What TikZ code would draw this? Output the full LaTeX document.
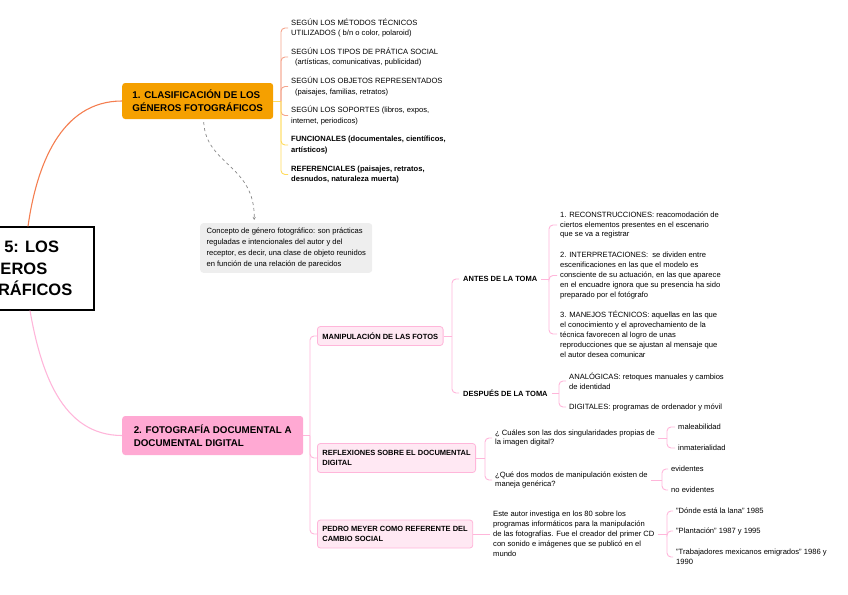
\documentclass[tikz,border=0pt]{standalone}
\usepackage{fontspec}
\setmainfont{Liberation Sans}
\usetikzlibrary{arrows.meta}
\definecolor{naranja}{HTML}{F5A000}
\definecolor{coral}{HTML}{F47E50}
\definecolor{salmon}{HTML}{F4A48C}
\definecolor{amarillo}{HTML}{FFDB5C}
\definecolor{rosa}{HTML}{FFA9D3}
\definecolor{rosal}{HTML}{FFB6DA}
\definecolor{rosap}{HTML}{FFE8F3}
\definecolor{gris}{HTML}{EEEEEE}
\definecolor{grisl}{HTML}{888888}
\begin{document}
\begin{tikzpicture}[x=1pt, y=-1pt,
    txt/.style={anchor=west, align=left, inner xsep=3pt, inner ysep=0pt, font=\fontsize{7.6}{10.6}\selectfont},
    ptxt/.style={anchor=west, align=left, inner xsep=3pt, inner ysep=0pt, font=\fontsize{7.6}{9.9}\selectfont},
    lbl/.style={anchor=west, align=left, inner xsep=4pt, inner ysep=0pt, font=\fontsize{7.5}{10}\selectfont\bfseries},
    rama/.style={anchor=west, align=left, rounded corners=3pt, inner xsep=9pt, font=\fontsize{9.8}{13}\selectfont\bfseries},
    sub/.style={anchor=west, align=left, draw=rosal, fill=rosap, line width=0.8pt, rounded corners=3pt, inner xsep=5pt, inner ysep=3pt, font=\fontsize{7.5}{10}\selectfont\bfseries},
    lin/.style={rounded corners=4pt, line width=0.9pt}]
    \clip (0,0) rectangle (848,594);

    % tema central
    \node[draw, line width=1.3pt, align=center, minimum width=176, minimum height=83, font=\fontsize{16.5}{21.5}\selectfont\bfseries] (tema) at (6,268.5) {TEMA 5: LOS\\GÉNEROS\\FOTOGRÁFICOS};

    % rama 1
    \node[rama, fill=naranja, minimum width=151, minimum height=36] (b1) at (122,101) {1. CLASIFICACIÓN DE LOS\\GÉNEROS FOTOGRÁFICOS};
    \draw[coral, line width=1.1pt] ([xshift=22pt]tema.north) to[out=82, in=180] (b1.west);
    \coordinate (h1) at (281,101);
    \node[txt] (t1) at (288,28) {SEGÚN LOS MÉTODOS TÉCNICOS\\UTILIZADOS ( b/n o color, polaroid)};
    \node[txt] (t2) at (288,57) {SEGÚN LOS TIPOS DE PRÁTICA SOCIAL\\\hspace{4pt}(artísticas, comunicativas, publicidad)};
    \node[txt] (t3) at (288,86.5) {SEGÚN LOS OBJETOS REPRESENTADOS\\\hspace{4pt}(paisajes, familias, retratos)};
    \node[txt] (t4) at (288,115.5) {SEGÚN LOS SOPORTES (libros, expos,\\internet, periodicos)};
    \node[txt, font=\fontsize{7.6}{10.6}\selectfont\bfseries] (t5) at (288,145) {FUNCIONALES (documentales, científicos,\\artísticos)};
    \node[txt, font=\fontsize{7.6}{10.6}\selectfont\bfseries] (t6) at (288,174.5) {REFERENCIALES (paisajes, retratos,\\desnudos, naturaleza muerta)};
    \draw[lin, amarillo] (b1.east) -- (h1);
    \draw[lin, salmon] (h1) |- (t1.west);
    \draw[lin, salmon] (h1) |- (t2.west);
    \draw[lin, salmon] (h1) |- (t3.west);
    \draw[lin, salmon] (h1) |- (t4.west);
    \draw[lin, amarillo] (h1) |- (t5.west);
    \draw[lin, amarillo] (h1) |- (t6.west);

    % concepto
    \node[fill=gris, rounded corners=3pt, anchor=north west, align=left, minimum width=172, inner xsep=5pt, inner ysep=5pt, font=\fontsize{7.6}{10.8}\selectfont] (concepto) at (200,223) {Concepto de género fotográfico: son prácticas\\reguladas e intencionales del autor y del\\receptor, es decir, una clase de objeto reunidos\\en función de una relación de parecidos};
    \draw[dashed, grisl, line width=0.7pt, -{Stealth[length=3pt, width=3pt]}] ([xshift=6pt, yshift=-3pt]b1.south) .. controls (206,165) and (255,165) .. ([xshift=-32pt, yshift=3pt]concepto.north);

    % rama 2
    \node[rama, fill=rosa, minimum width=181, minimum height=39] (b2) at (122,435.5) {2. FOTOGRAFÍA DOCUMENTAL A\\DOCUMENTAL DIGITAL};
    \draw[rosal, line width=1.1pt] ([xshift=24pt]tema.south) to[out=-80, in=180] (b2.west);
    \coordinate (h2) at (310,435.5);
    \node[sub, minimum height=19] (m) at (317,336) {MANIPULACIÓN DE LAS FOTOS};
    \node[sub, minimum height=29] (r) at (317,458) {REFLEXIONES SOBRE EL DOCUMENTAL\\DIGITAL};
    \node[sub, minimum height=28] (p) at (317,534) {PEDRO MEYER COMO REFERENTE DEL\\CAMBIO SOCIAL};
    \draw[lin, rosal] (b2.east) -- (h2);
    \draw[lin, rosal] (h2) |- (m.west);
    \draw[lin, rosal] (h2) |- (r.west);
    \draw[lin, rosal] (h2) |- (p.west);

    % manipulacion
    \coordinate (h3) at (452,336);
    \node[lbl] (antes) at (459,279) {ANTES DE LA TOMA};
    \node[lbl] (despues) at (459,393) {DESPUÉS DE LA TOMA};
    \draw[lin, rosal] (m.east) -- (h3);
    \draw[lin, rosal] (h3) |- (antes.west);
    \draw[lin, rosal] (h3) |- (despues.west);

    \coordinate (h4) at (549,279);
    \node[ptxt] (a1) at (557,225) {1. RECONSTRUCCIONES: reacomodación de\\ciertos elementos presentes en el escenario\\que se va a registrar};
    \node[ptxt] (a2) at (557,275.5) {2. INTERPRETACIONES:\ \ se dividen entre\\escenificaciones en las que el modelo es\\consciente de su actuación, en las que aparece\\en el encuadre ignora que su presencia ha sido\\preparado por el fotógrafo};
    \node[ptxt] (a3) at (557,334) {3. MANEJOS TÉCNICOS: aquellas en las que\\el conocimiento y el aprovechamiento de la\\técnica favorecen al logro de unas\\reproducciones que se ajustan al mensaje que\\el autor desea comunicar};
    \draw[lin, rosal] (antes.east) -- (h4);
    \draw[lin, rosal] (h4) |- (a1.west);
    \draw[lin, rosal] (h4) |- (a2.west);
    \draw[lin, rosal] (h4) |- (a3.west);

    \coordinate (h5) at (559,393);
    \node[ptxt] (d1) at (566,381) {ANALÓGICAS: retoques manuales y cambios\\de identidad};
    \node[ptxt] (d2) at (566,407) {DIGITALES: programas de ordenador y móvil};
    \draw[lin, rosal] (despues.east) -- (h5);
    \draw[lin, rosal] (h5) |- (d1.west);
    \draw[lin, rosal] (h5) |- (d2.west);

    % reflexiones
    \coordinate (h6) at (485,458);
    \node[ptxt] (q1) at (492,438) {¿ Cuáles son las dos singularidades propias de\\la imagen digital?};
    \node[ptxt] (q2) at (492,480) {¿Qué dos modos de manipulación existen de\\maneja genérica?};
    \draw[lin, rosal] (r.east) -- (h6);
    \draw[lin, rosal] (h6) |- (q1.west);
    \draw[lin, rosal] (h6) |- (q2.west);

    \coordinate (h7) at (667,438);
    \node[ptxt] (s1) at (675,427) {maleabilidad};
    \node[ptxt] (s2) at (675,448) {inmaterialidad};
    \draw[lin, rosal] (q1.east) -- (h7);
    \draw[lin, rosal] (h7) |- (s1.west);
    \draw[lin, rosal] (h7) |- (s2.west);

    \coordinate (h8) at (662,480);
    \node[ptxt] (e1) at (668,469) {evidentes};
    \node[ptxt] (e2) at (668,490) {no evidentes};
    \draw[lin, rosal] (q2.east) -- (h8);
    \draw[lin, rosal] (h8) |- (e1.west);
    \draw[lin, rosal] (h8) |- (e2.west);

    % pedro meyer
    \node[ptxt] (autor) at (490,534) {Este autor investiga en los 80 sobre los\\programas informáticos para la manipulación\\de las fotografías. Fue el creador del primer CD\\con sonido e imágenes que se publicó en el\\mundo};
    \draw[lin, rosal] (p.east) -- (autor.west);
    \coordinate (h9) at (667,534);
    \node[ptxt] (o1) at (673,511) {"Dónde está la lana" 1985};
    \node[ptxt] (o2) at (673,531) {"Plantación" 1987 y 1995};
    \node[ptxt] (o3) at (673,557) {"Trabajadores mexicanos emigrados" 1986 y\\1990};
    \draw[lin, rosal] (autor.east) -- (h9);
    \draw[lin, rosal] (h9) |- (o1.west);
    \draw[lin, rosal] (h9) |- (o2.west);
    \draw[lin, rosal] (h9) |- (o3.west);
\end{tikzpicture}
\end{document}
